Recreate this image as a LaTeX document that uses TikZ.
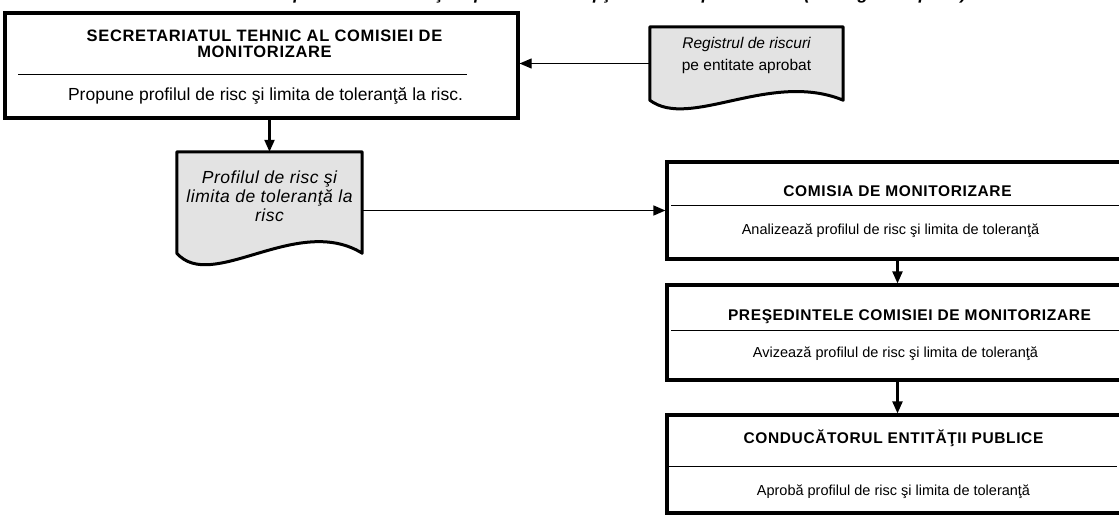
\documentclass[tikz,border=0pt]{standalone}
\usepackage{fontspec}
\setmainfont{Liberation Sans}
\newfontfamily\headfont[LetterSpace=4]{Liberation Sans}
\newfontfamily\docfont[LetterSpace=3]{Liberation Sans}
\usetikzlibrary{arrows.meta, positioning, calc}
\tikzstyle{stepbox} = [draw, line width=3.2pt, inner sep=0pt]
\tikzstyle{docbox} = [inner sep=0pt]
\tikzstyle{docshape} = [draw, line width=3pt, fill=gray!22, line join=round]
\tikzstyle{headText} = [font=\headfont\bfseries\fontsize{15.5}{17}\selectfont, align=center]
\tikzstyle{bodyText} = [font=\fontsize{14.5}{17}\selectfont]
\tikzstyle{docText} = [font=\itshape\fontsize{15.5}{19}\selectfont, align=center]
\tikzstyle{titleText} = [font=\bfseries\itshape\fontsize{17.5}{19}\selectfont]
\tikzstyle{sepline} = [line width=1.6pt]
\tikzstyle{flowThick} = [-{Triangle[length=12pt, width=10pt]}, line width=2.2pt]
\tikzstyle{flowThin} = [-{Triangle[length=12pt, width=10pt]}, line width=1.1pt]

\begin{document}
\begin{tikzpicture}[x=1pt, y=-1pt]
    \useasboundingbox (0,0) rectangle (1119,517);
    \clip (0,0) rectangle (1119,517);

    % Title (cut off at the top)
    \node[titleText, anchor=base east] (title) at (970,-1) {Stabilirea profilului de risc {\c s}i implementarea op{\c t}iunii de r{\u a}spuns la risc (strategia adoptat{\u a})};

    % Secretariat
    \node[stepbox, minimum width=513pt, minimum height=105pt] (sec) at (261.5,65.5) {};
    \node[headText, font=\headfont\bfseries\fontsize{16.5}{16}\selectfont] (sechead) at ($(sec.north)+(3,32)$) {SECRETARIATUL TEHNIC AL COMISIEI DE\\MONITORIZARE};
    \draw[sepline] ($(sec.north west)+(15,63)$) -- ($(sec.north east)+(-53,63)$);
    \node[bodyText, font=\fontsize{17.5}{19}\selectfont] (secbody) at ($(sec.north)+(4,84)$) {Propune profilul de risc {\c s}i limita de toleran{\c t}{\u a} la risc.};

    % Risk register document
    \node[docbox, minimum width=193pt, minimum height=73pt] (reg) at (746.5,63.5) {};
    \draw[docshape] (reg.south west) -- (reg.north west) -- (reg.north east) -- (reg.south east)
        .. controls +(-73,-30) and +(40,30) .. (reg.south west) -- cycle;
    \node[docText] (regtext) at ($(reg.center)+(0,-8)$) {Registrul de riscuri\\[3pt]{\upshape pe entitate aprobat}};

    % Risk profile document
    \node[docbox, minimum width=185pt, minimum height=101pt] (prof) at (269.5,202.5) {};
    \draw[docshape] (prof.south west) -- (prof.north west) -- (prof.north east) -- (prof.south east)
        .. controls +(-65,-40) and +(35,40) .. (prof.south west) -- cycle;
    \node[docText, font=\docfont\itshape\fontsize{17.5}{19}\selectfont] (proftext) at ($(prof.center)+(0,-6)$) {Profilul de risc {\c s}i\\limita de toleran{\c t}{\u a} la\\risc};

    % Monitoring commission
    \node[stepbox, minimum width=461pt, minimum height=97pt] (com) at (897.5,210.5) {};
    \node[headText] (comhead) at ($(com.north)+(0,31)$) {COMISIA DE MONITORIZARE};
    \draw[sepline] ($(com.north west)+(6,45)$) -- ($(com.north east)+(-8,45)$);
    \node[bodyText] (combody) at ($(com.north)+(-7,70)$) {Analizeaz{\u a} profilul de risc {\c s}i limita de toleran{\c t}{\u a}};

    % President of the commission
    \node[stepbox, minimum width=461pt, minimum height=95pt] (pres) at (897.5,332.5) {};
    \node[headText] (preshead) at ($(pres.north)+(12,33)$) {PRE{\c S}EDINTELE COMISIEI DE MONITORIZARE};
    \draw[sepline] ($(pres.north west)+(6,47)$) -- ($(pres.north east)+(-8,47)$);
    \node[bodyText] (presbody) at ($(pres.north)+(-2,70)$) {Avizeaz{\u a} profilul de risc {\c s}i limita de toleran{\c t}{\u a}};

    % Head of the public entity
    \node[stepbox, minimum width=461pt, minimum height=98pt] (cond) at (897.5,464) {};
    \node[headText] (condhead) at ($(cond.north)+(-4,25)$) {CONDUC{\u A}TORUL ENTIT{\u A}{\c T}II PUBLICE};
    \draw[sepline] ($(cond.north west)+(4,53)$) -- ($(cond.north east)+(-13,53)$);
    \node[bodyText] (condbody) at ($(cond.north)+(-4,78)$) {Aprob{\u a} profilul de risc {\c s}i limita de toleran{\c t}{\u a}};

    % Flow
    \draw[flowThin] (reg.west) -- (reg.west -| sec.east);
    \draw[flowThick] (sec.south -| prof.north) -- (prof.north);
    \draw[flowThin, line width=1.5pt] (prof.east |- com.west) -- (com.west);
    \draw[flowThick] (com.south) -- (pres.north);
    \draw[flowThick] (pres.south) -- (cond.north);
\end{tikzpicture}
\end{document}
